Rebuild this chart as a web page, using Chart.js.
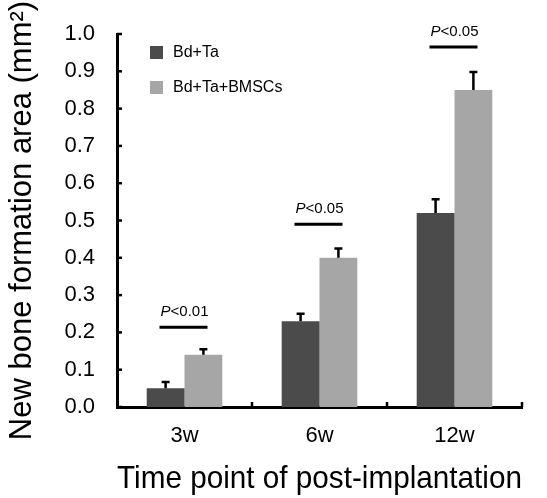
<!DOCTYPE html>
<html>
<head>
<meta charset="utf-8">
<script src="https://cdn.jsdelivr.net/npm/chart.js@4.4.1/dist/chart.umd.min.js"></script>
<style>
  html, body { margin: 0; padding: 0; background: #fff; }
  #wrap { width: 547px; height: 498px; }
</style>
</head>
<body>
<div id="wrap"><canvas id="bone-chart"></canvas></div>
<script>
// values
const timePoints = ['3w', '6w', '12w'];
const bdTa = [0.05, 0.23, 0.52];
const bdTaErr = [0.017, 0.02, 0.037];
const bdTaBmsc = [0.14, 0.40, 0.85];
const bdTaBmscErr = [0.015, 0.025, 0.048];
const pLabels = ['<0.01', '<0.05', '<0.05'];
const pLineY = [0.214, 0.49, 0.965];
const yTicks = [0, 0.1, 0.2, 0.3, 0.4, 0.5, 0.6, 0.7, 0.8, 0.9, 1.0];

const FONT = '"Liberation Sans", Arial, Helvetica, sans-serif';

// error bars, inward ticks, significance lines and legend
const extras = {
  id: 'extras',
  afterDatasetsDraw(chart) {
    const ctx = chart.ctx;
    const x = chart.scales.x, y = chart.scales.y;
    const area = chart.chartArea;
    ctx.save();
    ctx.strokeStyle = '#000';
    ctx.lineWidth = 2.5;
    const errs = [bdTaErr, bdTaBmscErr];
    chart.data.datasets.forEach((ds, di) => {
      chart.getDatasetMeta(di).data.forEach((bar, i) => {
        const top = y.getPixelForValue(ds.data[i] + errs[di][i]);
        ctx.beginPath();
        ctx.moveTo(bar.x, bar.y);
        ctx.lineTo(bar.x, top);
        ctx.moveTo(bar.x - 4, top);
        ctx.lineTo(bar.x + 4, top);
        ctx.stroke();
      });
    });

    // inward ticks
    yTicks.forEach(v => {
      const py = y.getPixelForValue(v);
      ctx.beginPath();
      ctx.moveTo(area.left, py);
      ctx.lineTo(area.left + 5, py);
      ctx.stroke();
    });
    for (let i = 1; i <= timePoints.length; i++) {
      const bx = i === timePoints.length ? area.right :
        (x.getPixelForValue(i - 1) + x.getPixelForValue(i)) / 2;
      ctx.beginPath();
      ctx.moveTo(bx, area.bottom);
      ctx.lineTo(bx, area.bottom - 5);
      ctx.stroke();
    }

    // significance
    ctx.lineWidth = 3;
    ctx.fillStyle = '#000';
    ctx.textBaseline = 'alphabetic';
    ctx.textAlign = 'left';
    pLabels.forEach((lab, i) => {
      const cx = x.getPixelForValue(i);
      const ly = y.getPixelForValue(pLineY[i]);
      ctx.beginPath();
      ctx.moveTo(cx - 25, ly);
      ctx.lineTo(cx + 23, ly);
      ctx.stroke();
      ctx.font = 'italic 15px ' + FONT;
      const wP = ctx.measureText('P').width;
      ctx.font = '15px ' + FONT;
      const wR = ctx.measureText(lab).width;
      const sx = cx - (wP + wR) / 2;
      ctx.font = 'italic 15px ' + FONT;
      ctx.fillText('P', sx, ly - 11);
      ctx.font = '15px ' + FONT;
      ctx.fillText(lab, sx + wP, ly - 11);
    });

    // legend
    ctx.font = '16px ' + FONT;
    ctx.textBaseline = 'middle';
    chart.data.datasets.forEach((ds, di) => {
      const ly = area.top + 12 + di * 35;
      ctx.fillStyle = ds.backgroundColor;
      ctx.fillRect(area.left + 33, ly, 13, 13);
      ctx.fillStyle = '#000';
      ctx.fillText(ds.label, area.left + 56, ly + 7);
    });
    ctx.restore();
  }
};

new Chart(document.getElementById('bone-chart'), {
  type: 'bar',
  data: {
    labels: timePoints,
    datasets: [
      { label: 'Bd+Ta', data: bdTa, backgroundColor: '#4b4b4b' },
      { label: 'Bd+Ta+BMSCs', data: bdTaBmsc, backgroundColor: '#a6a6a6' }
    ]
  },
  options: {
    responsive: true,
    maintainAspectRatio: false,
    animation: false,
    layout: { padding: { top: 34, right: 25, left: 0, bottom: 0 } },
    plugins: { legend: { display: false }, tooltip: { enabled: false } },
    datasets: { bar: { categoryPercentage: 0.56, barPercentage: 1 } },
    scales: {
      x: {
        grid: { display: false },
        border: { color: '#000', width: 3 },
        ticks: { color: '#000', font: { family: FONT, size: 22 }, padding: 8 },
        title: {
          display: true, text: 'Time point of post-implantation', color: '#000',
          align: 'end',
          font: { family: FONT, size: 32 }, padding: { top: 22, bottom: 0 }
        },
        afterFit(s) { s.height = 91; }
      },
      y: {
        min: 0, max: 1.0,
        grid: { display: false },
        border: { color: '#000', width: 3 },
        ticks: {
          stepSize: 0.1, color: '#000', font: { family: FONT, size: 22 }, padding: 14,
          callback: v => v.toFixed(1)
        },
        title: {
          display: true, text: 'New bone formation area (mm²)', color: '#000',
          font: { family: FONT, size: 31 }, padding: { top: 4, bottom: 2 }
        },
        afterFit(s) { s.width = 117; }
      }
    }
  },
  plugins: [extras]
});
</script>
</body>
</html>
